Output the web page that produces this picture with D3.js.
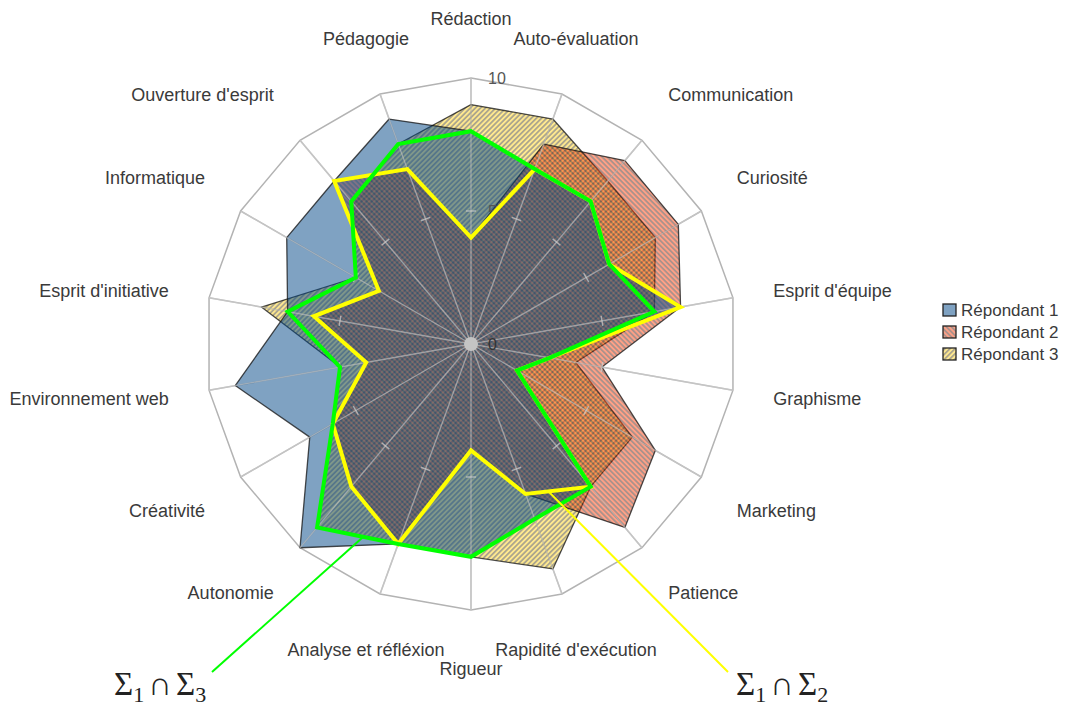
<!DOCTYPE html>
<html>
<head>
<meta charset="utf-8">
<style>
body { margin: 0; background: #fff; }
svg text { font-family: "Liberation Sans", Arial, sans-serif; }
</style>
</head>
<body>
<svg width="1068" height="706"></svg>
<script src="https://cdn.jsdelivr.net/npm/d3@7"></script>
<script>

// axes, clockwise from the top
var categories = ["Rédaction", "Auto-évaluation", "Communication", "Curiosité", "Esprit d'équipe",
  "Graphisme", "Marketing", "Patience", "Rapidité d'exécution", "Rigueur", "Analyse et réfléxion",
  "Autonomie", "Créativité", "Environnement web", "Esprit d'initiative", "Informatique",
  "Ouverture d'esprit", "Pédagogie"];

var seriesNames = ["Répondant 1", "Répondant 2", "Répondant 3"];
var repondant1 = [8, 7, 7, 6, 8, 3, 2, 7, 7, 8, 8, 10, 7, 9, 7, 8, 8, 9];
var repondant2 = [4, 8, 9, 9, 8, 5, 8, 9, 6, 4, 8, 7, 6, 4, 6, 4, 8, 7];
var repondant3 = [9, 9, 8, 8, 7, 4, 7, 7, 9, 8, 8, 9, 6, 5, 8, 5, 7, 8];

// hand-drawn outlines on top of the chart
var inter13 = [8, 7, 7, 6, 7, 3, 2, 7, 7, 8, 8, 9, 6, 5, 7, 5, 7, 8]; // Σ1∩Σ3 (green)
var inter12 = [4, 7, 7, 6, 8, 3, 2, 7, 6, 4, 8, 7, 6, 4, 6, 4, 8, 7]; // Σ1∩Σ2 (yellow)

var radialTicks = [0, 5, 10];

var svg = d3.select("svg");
var cx = 471, cy = 344, R = 266;

var r = d3.scaleLinear().domain([0, 10]).range([0, R]);
var angle = d3.scaleLinear().domain([0, categories.length]).range([0, 2 * Math.PI]);

function pt(i, v) {
  var a = angle(i);
  return [cx + r(v) * Math.sin(a), cy - r(v) * Math.cos(a)];
}

var radial = d3.lineRadial()
  .angle(function(d, i) { return angle(i); })
  .radius(function(d) { return r(d); })
  .curve(d3.curveLinearClosed);

// hatch fills
var defs = svg.append("defs");
function hatch(id, color, rot) {
  var p = defs.append("pattern")
    .attr("id", id)
    .attr("patternUnits", "userSpaceOnUse")
    .attr("width", 3.6).attr("height", 3.6)
    .attr("patternTransform", "rotate(" + rot + ")");
  p.append("rect").attr("width", 3.6).attr("height", 3.6).attr("fill", color);
  p.append("line").attr("x1", 1.8).attr("x2", 1.8).attr("y1", 0).attr("y2", 3.6)
    .attr("stroke", "#1a1a1a").attr("stroke-width", 1.3);
}
hatch("hatch2", "#ff420e", -45);
hatch("hatch3", "#ffd320", 45);

var fills = ["#004586", "url(#hatch2)", "url(#hatch3)"];
var seriesData = [repondant1, repondant2, repondant3];

var g = svg.append("g").attr("transform", "translate(" + cx + "," + cy + ")");

// outer ring and spokes
var ring = categories.map(function(c, i) { return 10; });
g.append("path")
  .attr("d", radial(ring))
  .attr("fill", "none")
  .attr("stroke", "#b3b3b3")
  .attr("stroke-width", 1.5);

var spokes = g.append("g");
categories.forEach(function(c, i) {
  var a = angle(i);
  spokes.append("line")
    .attr("x1", 0).attr("y1", 0)
    .attr("x2", r(10) * Math.sin(a)).attr("y2", -r(10) * Math.cos(a))
    .attr("stroke", "#b3b3b3").attr("stroke-width", 1.5);
});

// series, last one underneath
[2, 1, 0].forEach(function(k) {
  g.append("path")
    .attr("d", radial(seriesData[k]))
    .attr("fill", fills[k])
    .attr("fill-opacity", 0.5)
    .attr("stroke", "#111")
    .attr("stroke-opacity", 0.75)
    .attr("stroke-width", 1.3)
    .attr("stroke-linejoin", "round");
});

// spokes showing through the fills
var spokes2 = g.append("g");
categories.forEach(function(c, i) {
  var a = angle(i);
  var s = Math.sin(a), co = Math.cos(a);
  spokes2.append("line")
    .attr("x1", 0).attr("y1", 0)
    .attr("x2", r(10) * s).attr("y2", -r(10) * co)
    .attr("stroke", "#d0d0d0").attr("stroke-opacity", 0.6).attr("stroke-width", 1.4);
  // tick at 5
  var tx = r(5) * s, ty = -r(5) * co;
  spokes2.append("line")
    .attr("x1", tx - 5 * co).attr("y1", ty - 5 * s)
    .attr("x2", tx + 5 * co).attr("y2", ty + 5 * s)
    .attr("stroke", "#d0d0d0").attr("stroke-opacity", 0.7).attr("stroke-width", 1.4);
});

g.append("circle").attr("r", 7).attr("fill", "#c4c4c4");

g.selectAll(".rtick")
  .data(radialTicks)
  .enter().append("text")
  .attr("class", "rtick")
  .attr("x", 17)
  .attr("y", function(d) { return -r(d); })
  .attr("dy", "0.35em")
  .attr("font-size", 16)
  .attr("fill", function(d) { return d === 0 ? "#333" : "#555"; })
  .text(function(d) { return d; });

// category labels
categories.forEach(function(c, i) {
  var a = angle(i);
  var s = Math.sin(a), co = Math.cos(a);
  var anchor = Math.abs(s) < 0.5 ? "middle" : (s > 0 ? "start" : "end");
  var ly = -325 * co;
  if (Math.abs(Math.abs(co) - 0.5) < 0.01) ly += co > 0 ? -4 : 4;
  if (Math.abs(co) < 0.2) ly += co > 0 ? 3 : -2;
  g.append("text")
    .attr("x", 307 * s)
    .attr("y", ly)
    .attr("dy", "0.35em")
    .attr("text-anchor", anchor)
    .attr("font-size", 18)
    .attr("fill", "#3a3a3a")
    .text(c);
});

// intersection outlines
g.append("path")
  .attr("d", radial(inter12))
  .attr("fill", "none")
  .attr("stroke", "#ffff00")
  .attr("stroke-width", 4)
  .attr("stroke-linejoin", "miter");
g.append("path")
  .attr("d", radial(inter13))
  .attr("fill", "none")
  .attr("stroke", "#00ff00")
  .attr("stroke-width", 4)
  .attr("stroke-linejoin", "miter");

// callouts
function along(vals, i, j, t) {
  var p = pt(i, vals[i]), q = pt(j, vals[j]);
  return [p[0] + (q[0] - p[0]) * t, p[1] + (q[1] - p[1]) * t];
}
var s13 = along(inter13, 10, 11, 0.43);
var s12 = along(inter12, 8, 7, 0.35);
svg.append("line")
  .attr("x1", s13[0]).attr("y1", s13[1]).attr("x2", 212).attr("y2", 672)
  .attr("stroke", "#00ff00").attr("stroke-width", 2);
svg.append("line")
  .attr("x1", s12[0]).attr("y1", s12[1]).attr("x2", 728).attr("y2", 672)
  .attr("stroke", "#ffff00").attr("stroke-width", 2);

function sigmaLabel(x, a, b) {
  var t = svg.append("text")
    .attr("x", x).attr("y", 695)
    .style("font-family", "'Liberation Serif', 'Times New Roman', serif")
    .attr("font-size", 33)
    .attr("fill", "#222");
  t.append("tspan").text("Σ");
  t.append("tspan").attr("font-size", 22).attr("dy", 7).text(a);
  t.append("tspan").attr("dy", -7).attr("dx", 4).text("∩");
  t.append("tspan").attr("dx", 4).text("Σ");
  t.append("tspan").attr("font-size", 22).attr("dy", 7).text(b);
}
sigmaLabel(114, "1", "3");
sigmaLabel(736, "1", "2");

// legend
var legend = svg.append("g").attr("transform", "translate(943,304)");
seriesNames.forEach(function(name, k) {
  var row = legend.append("g").attr("transform", "translate(0," + (k * 22) + ")");
  row.append("rect").attr("width", 13).attr("height", 12)
    .attr("fill", "#fff");
  row.append("rect").attr("width", 13).attr("height", 12)
    .attr("fill", fills[k]).attr("fill-opacity", 0.5)
    .attr("stroke", "#222").attr("stroke-width", 1.3);
  row.append("text")
    .attr("x", 18).attr("y", 6).attr("dy", "0.35em")
    .attr("font-size", 17)
    .attr("fill", "#3a3a3a")
    .text(name);
});

</script>
</body>
</html>
